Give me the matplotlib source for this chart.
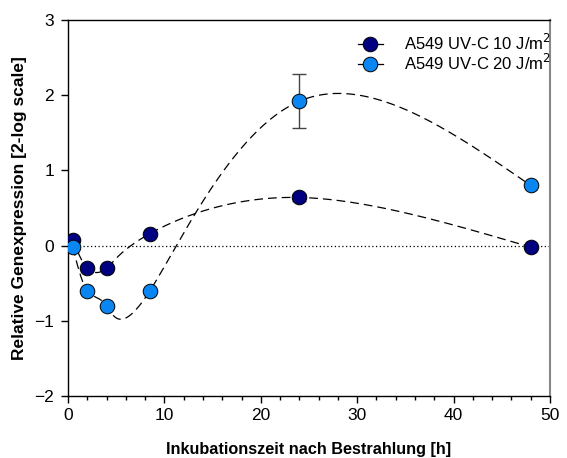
import numpy as np
import matplotlib
matplotlib.use("Agg")
import matplotlib.pyplot as plt
from matplotlib.lines import Line2D
from matplotlib.ticker import MultipleLocator

plt.rcParams['font.family'] = ['Liberation Sans', 'DejaVu Sans']

# Incubation times [h]
hours = [0.5, 2, 4, 8.5, 24, 48]
# Relative gene expression (log2)
expr_10 = [0.08, -0.30, -0.30, 0.16, 0.64, -0.02]
err_10 = [0.0, 0.0, 0.0, 0.0, 0.05, 0.0]
expr_20 = [-0.02, -0.60, -0.80, -0.60, 1.92, 0.80]
err_20 = [0.0, 0.0, 0.0, 0.0, 0.36, 0.0]

labels = ["A549 UV-C 10 J/m$^2$", "A549 UV-C 20 J/m$^2$"]
colors = ["#000080", "#0A86F2"]


def natural_spline(t, y, ts):
    t = np.asarray(t, float)
    y = np.asarray(y, float)
    n = len(t)
    h = np.diff(t)
    A = np.zeros((n, n))
    b = np.zeros(n)
    A[0, 0] = A[-1, -1] = 1
    for i in range(1, n - 1):
        A[i, i - 1] = h[i - 1]
        A[i, i] = 2 * (h[i - 1] + h[i])
        A[i, i + 1] = h[i]
        b[i] = 6 * ((y[i + 1] - y[i]) / h[i] - (y[i] - y[i - 1]) / h[i - 1])
    M = np.linalg.solve(A, b)
    idx = np.clip(np.searchsorted(t, ts) - 1, 0, n - 2)
    t0, t1 = t[idx], t[idx + 1]
    hh = t1 - t0
    a = (t1 - ts) / hh
    c = (ts - t0) / hh
    return (a * y[idx] + c * y[idx + 1]
            + ((a ** 3 - a) * M[idx] + (c ** 3 - c) * M[idx + 1]) * hh ** 2 / 6)


def smooth_curve(x, y, n=800):
    """Parametric cubic spline with one parameter step per data point."""
    t = np.arange(len(x), dtype=float)
    ts = np.linspace(0, t[-1], n)
    return natural_spline(t, x, ts), natural_spline(t, y, ts)


fig = plt.figure(figsize=(5.67, 4.58), dpi=100)
ax = fig.add_axes([0.120, 0.1354, 0.850, 0.8209])
ax.set_xlim(0, 50)
ax.set_ylim(-2, 3)

ax.axhline(0, color="black", lw=0.9, ls=(0, (1, 2)), zorder=1)

handles = []
for vals, errs, col in zip([expr_10, expr_20], [err_10, err_20], colors):
    cx, cy = smooth_curve(hours, vals)
    ax.plot(cx, cy, color="black", lw=0.9, ls=(0, (7, 4)), zorder=2)
    ax.errorbar(hours, vals, yerr=errs, fmt="none", ecolor="#444444",
                elinewidth=1.0, capsize=5, capthick=1.0, zorder=3)
    ax.plot(hours, vals, "o", ms=10.5, mfc=col, mec="black", mew=0.7,
            ls="none", zorder=4)
    handles.append(Line2D([], [], color="black", lw=0.9, marker="o", ms=10.5,
                          mfc=col, mec="black", mew=0.7))

ax.xaxis.set_major_locator(MultipleLocator(10))
ax.xaxis.set_minor_locator(MultipleLocator(2))
ax.yaxis.set_major_locator(MultipleLocator(1))
ax.tick_params(axis="both", which="major", direction="out", length=5,
               width=1, labelsize=12.5)
ax.tick_params(axis="x", which="major", pad=4)
ax.tick_params(axis="y", which="major", pad=5)
ax.tick_params(axis="x", which="minor", direction="out", length=3, width=1)
ax.spines["right"].set_color("#888888")
ax.spines["right"].set_linewidth(1.5)
for s in ["left", "bottom", "top"]:
    ax.spines[s].set_linewidth(1.0)

ax.set_xlabel("Inkubationszeit nach Bestrahlung [h]", fontsize=11.7,
              fontweight="bold", labelpad=13)
ax.set_ylabel("Relative Genexpression [2-log scale]", fontsize=12.5,
              fontweight="bold", labelpad=5)

ax.legend(handles, labels, loc="upper right", bbox_to_anchor=(1.003, 0.966),
          frameon=False, fontsize=12, handlelength=1.5, handletextpad=1.3,
          borderaxespad=0, borderpad=0, labelspacing=0.0)

fig.savefig("out.png", dpi=100)
